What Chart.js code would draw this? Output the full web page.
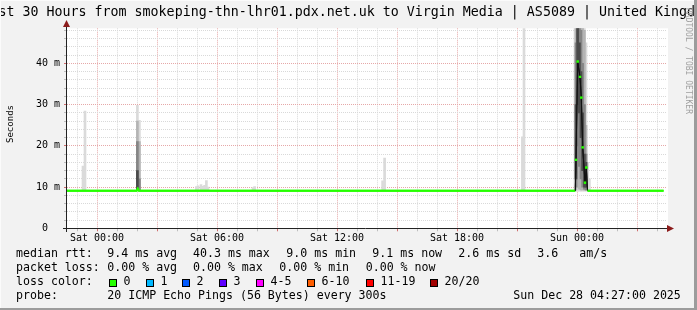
<!DOCTYPE html>
<html>
<head>
<meta charset="utf-8">
<script src="https://cdn.jsdelivr.net/npm/chart.js@4.4.0/dist/chart.umd.min.js"></script>
<style>
  html, body { margin: 0; padding: 0; background: #f2f2f2; }
  #wrap { width: 697px; height: 310px; position: relative; }
</style>
</head>
<body>
<div id="wrap"><canvas id="myChart"></canvas></div>
<script>
// x axis is hours counted from Sat 00:00
const xTickHours = [0, 6, 12, 18, 24];
const xTickLabels = ['Sat 00:00', 'Sat 06:00', 'Sat 12:00', 'Sat 18:00', 'Sun 00:00'];
const yTickValues = [0, 10, 20, 30, 40];
const yTickLabels = ['0  ', '10 m', '20 m', '30 m', '40 m'];

// median rtt in ms
const medianHours = [-1.5, 1.98, 2.04, 2.1, 23.915, 23.95, 24.035, 24.15, 24.215, 24.285, 24.4, 24.465, 24.525, 28.33];
const medianMs = [9.1, 9.1, 9.6, 9.1, 9.1, 16.6, 40.4, 36.7, 31.7, 19.6, 11.1, 14.7, 9.1, 9.1];

// smoke bands: [hour, low ms, high ms]
const smokeLight = [
  [-0.7, 9.1, 15.1], [-0.6, 9.1, 28.4],
  [2.02, 9.1, 29.8], [2.12, 9.1, 26.2],
  [4.97, 9.1, 10.1], [5.05, 9.1, 10.3], [5.2, 9.1, 10.6], [5.3, 9.1, 10.2],
  [5.38, 9.1, 10.4], [5.47, 9.1, 11.6], [5.55, 9.1, 10.0],
  [7.8, 9.1, 9.9], [7.88, 9.1, 10.1],
  [14.28, 9.1, 11.5], [14.38, 9.1, 17.0],
  [21.27, 9.1, 22.2], [21.35, 9.1, 60],
  [23.9, 9.1, 60], [23.95, 9.0, 60], [24.03, 9.0, 60], [24.12, 9.0, 60], [24.2, 9.0, 60],
  [24.28, 9.0, 60], [24.37, 9.0, 60], [24.45, 9.0, 45], [24.53, 9.1, 16], [24.62, 9.1, 12]
];
const smokeMid = [
  [2.02, 9.2, 26.0], [2.12, 9.1, 21.0],
  [23.95, 9.3, 55], [24.03, 10, 60], [24.12, 9.5, 60], [24.2, 9.3, 60],
  [24.28, 9.3, 60], [24.37, 9.3, 48], [24.45, 9.2, 25]
];
const smokeDark = [
  [2.02, 9.2, 21.0], [2.12, 9.1, 12.0],
  [23.95, 10, 45], [24.03, 20, 60], [24.12, 15, 55], [24.2, 12, 48],
  [24.28, 10, 40], [24.37, 9.5, 30], [24.45, 9.3, 18]
];
const smokeCore = [
  [2.02, 9.1, 14.0],
  [23.95, 12, 30], [24.03, 30, 50], [24.12, 28, 45], [24.2, 22, 38],
  [24.28, 14, 28], [24.37, 10, 18], [24.45, 10, 16]
];

const lossLabels = ['0', '1', '2', '3', '4-5', '6-10', '11-19', '20/20'];
const lossColors = ['#26ff00', '#00b8ff', '#0059ff', '#5e00ff', '#ff00ff', '#ff5e00', '#ff0000', '#a10000'];

const MONO = '"DejaVu Sans Mono", monospace';
const GREEN = '#26ff00';
const MAJOR = '#e6a8a8';
const MINOR = '#d9d9d9';

function smokeSet(rows, color, order) {
  return {
    type: 'bar',
    data: rows.map(r => ({ x: r[0], y: [r[1], r[2]] })),
    backgroundColor: color,
    borderWidth: 0,
    barThickness: 2,
    grouped: false,
    order: order
  };
}

const decor = {
  id: 'decor',
  beforeDraw(chart) {
    const ctx = chart.ctx, a = chart.chartArea;
    ctx.save();
    ctx.fillStyle = '#f2f2f2';
    ctx.fillRect(0, 0, chart.width, chart.height);
    ctx.fillStyle = '#ffffff';
    ctx.fillRect(a.left, a.top, a.right - a.left + 1, a.bottom - a.top);
    ctx.restore();
  },
  afterDraw(chart) {
    const ctx = chart.ctx, a = chart.chartArea;

    // median line back on top of the grid
    ctx.save();
    ctx.beginPath();
    ctx.rect(a.left, a.top - 2, a.right - a.left, a.bottom - a.top + 2);
    ctx.clip();
    chart.getDatasetMeta(0).controller.draw();
    ctx.restore();

    ctx.save();
    // axes
    ctx.strokeStyle = '#222';
    ctx.lineWidth = 1;
    ctx.beginPath();
    ctx.moveTo(63, Math.round(a.bottom) + 0.5);
    ctx.lineTo(668, Math.round(a.bottom) + 0.5);
    ctx.moveTo(Math.round(a.left) - 0.5, 232);
    ctx.lineTo(Math.round(a.left) - 0.5, 25);
    ctx.stroke();
    ctx.fillStyle = '#8c1c1c';
    const yb = Math.round(a.bottom) + 0.5;
    ctx.beginPath();
    ctx.moveTo(667, yb - 3.5); ctx.lineTo(674, yb); ctx.lineTo(667, yb + 3.5); ctx.closePath(); ctx.fill();
    const xl = Math.round(a.left) - 0.5;
    ctx.beginPath();
    ctx.moveTo(xl - 3.5, 27); ctx.lineTo(xl, 20); ctx.lineTo(xl + 3.5, 27); ctx.closePath(); ctx.fill();

    // title (too long for the image, clipped on both sides)
    ctx.fillStyle = '#000';
    ctx.font = '13.3px ' + MONO;
    ctx.textAlign = 'left';
    ctx.textBaseline = 'alphabetic';
    ctx.fillText('Last 30 Hours from smokeping-thn-lhr01.pdx.net.uk to Virgin Media | AS5089 | United Kingdom', -17.5, 16);

    // y axis title
    ctx.save();
    ctx.translate(10.5, 124);
    ctx.rotate(-Math.PI / 2);
    ctx.font = '9px ' + MONO;
    ctx.textAlign = 'center';
    ctx.textBaseline = 'middle';
    ctx.fillText('Seconds', 0, 0);
    ctx.restore();

    // watermark
    ctx.save();
    ctx.translate(688, 8);
    ctx.rotate(Math.PI / 2);
    ctx.font = '8px ' + MONO;
    ctx.fillStyle = '#a0a0a0';
    ctx.textAlign = 'left';
    ctx.textBaseline = 'middle';
    ctx.fillText('RRDTOOL / TOBI OETIKER', 0, 0);
    ctx.restore();

    // legend
    ctx.font = '11.6px ' + MONO;
    ctx.textBaseline = 'middle';
    ctx.fillStyle = '#000';
    const rows = [
      [254.3, [[16, 'median rtt:'], [107.3, '9.4 ms avg'], [193, '40.3 ms max'], [286.3, '9.0 ms min'],
               [372.3, '9.1 ms now'], [458.3, '2.6 ms sd'], [537.3, '3.6'], [579.3, 'am/s']]],
      [268.3, [[16, 'packet loss:'], [107.3, '0.00 % avg'], [193, '0.00 % max'], [279.3, '0.00 % min'],
               [365.7, '0.00 % now']]],
      [282.3, [[16, 'loss color:']]],
      [296.3, [[16, 'probe:'], [107.3, '20 ICMP Echo Pings (56 Bytes) every 300s'], [513.3, 'Sun Dec 28 04:27:00 2025']]]
    ];
    rows.forEach(([y, items]) => items.forEach(([x, t]) => ctx.fillText(t, x, y)));

    const boxX = [109, 146, 182, 219, 256, 307, 366, 430];
    lossLabels.forEach((lab, i) => {
      ctx.fillStyle = lossColors[i];
      ctx.fillRect(boxX[i], 279, 8, 8);
      ctx.strokeStyle = '#000';
      ctx.strokeRect(boxX[i] + 0.5, 279.5, 7, 7);
      ctx.fillStyle = '#000';
      ctx.fillText(lab, boxX[i] + 14.5, 282.3);
    });

    // frame
    ctx.fillStyle = '#9c9c9c';
    ctx.fillRect(0, 308, chart.width, 2);
    ctx.fillRect(694, 0, 3, chart.height);
    ctx.fillStyle = '#fbfbfb';
    ctx.fillRect(0, 0, chart.width - 3, 1);
    ctx.fillRect(0, 0, 1, chart.height - 2);
    ctx.restore();
  }
};

const ctx = document.getElementById('myChart').getContext('2d');
Chart.defaults.font.family = MONO;
Chart.defaults.color = '#000';

const myChart = new Chart(ctx, {
  type: 'bar',
  data: {
    datasets: [
      {
        type: 'line',
        data: medianHours.map((h, i) => ({ x: h, y: medianMs[i] })),
        borderColor: GREEN,
        borderWidth: 2,
        tension: 0,
        pointStyle: 'rect',
        pointRadius: c => (c.raw && c.raw.y > 10 ? 1.6 : 0),
        pointBackgroundColor: GREEN,
        pointBorderWidth: 0,
        segment: {
          borderColor: s => (Math.abs(s.p1.parsed.y - s.p0.parsed.y) > 1 ? '#111' : GREEN),
          borderWidth: s => (Math.abs(s.p1.parsed.y - s.p0.parsed.y) > 1 ? 1 : 2)
        },
        order: 0
      },
      smokeSet(smokeCore, '#4a4a4a', 1),
      smokeSet(smokeDark, '#858585', 2),
      smokeSet(smokeMid, '#b4b4b4', 3),
      smokeSet(smokeLight, '#dadada', 4)
    ]
  },
  options: {
    responsive: true,
    maintainAspectRatio: false,
    animation: false,
    devicePixelRatio: 1,
    layout: { padding: { left: 0, top: 28.3, right: 30, bottom: 61.7 } },
    plugins: { legend: { display: false }, tooltip: { enabled: false } },
    scales: {
      x: {
        type: 'linear',
        min: -1.5,
        max: 28.5,
        offset: false,
        z: 1,
        afterFit: s => { s.height = 20; },
        afterBuildTicks: s => {
          const t = [];
          for (let h = -1; h <= 28; h++) t.push({ value: h });
          s.ticks = t;
        },
        grid: {
          offset: false,
          color: c => (c.tick && c.tick.value % 3 === 0 ? MAJOR : MINOR),
          tickColor: c => (c.tick && c.tick.value % 3 === 0 ? '#d07070' : '#bdbdbd'),
          tickLength: 3,
          lineWidth: 1
        },
        border: { display: false, dash: [1, 1] },
        ticks: {
          autoSkip: false,
          maxRotation: 0,
          padding: 1,
          font: { size: 10 },
          callback: v => {
            const i = xTickHours.indexOf(v);
            return i >= 0 ? xTickLabels[i] : '';
          }
        }
      },
      y: {
        type: 'linear',
        min: 0,
        max: 48.5,
        z: 1,
        afterFit: s => { s.width = 67; },
        afterBuildTicks: s => {
          const t = [];
          for (let v = 0; v <= 48; v += 2) t.push({ value: v });
          s.ticks = t;
        },
        grid: {
          color: c => (!c.tick || c.tick.value === 0 ? 'rgba(0,0,0,0)' : (c.tick.value % 10 === 0 ? MAJOR : MINOR)),
          tickColor: c => (c.tick && c.tick.value % 10 === 0 ? '#d07070' : '#bdbdbd'),
          tickLength: 3,
          lineWidth: 1
        },
        border: { display: false, dash: [1, 1] },
        ticks: {
          autoSkip: false,
          padding: 4,
          font: { size: 10 },
          callback: v => {
            const i = yTickValues.indexOf(v);
            return i >= 0 ? yTickLabels[i] : '';
          }
        }
      }
    }
  },
  plugins: [decor]
});
</script>
</body>
</html>
